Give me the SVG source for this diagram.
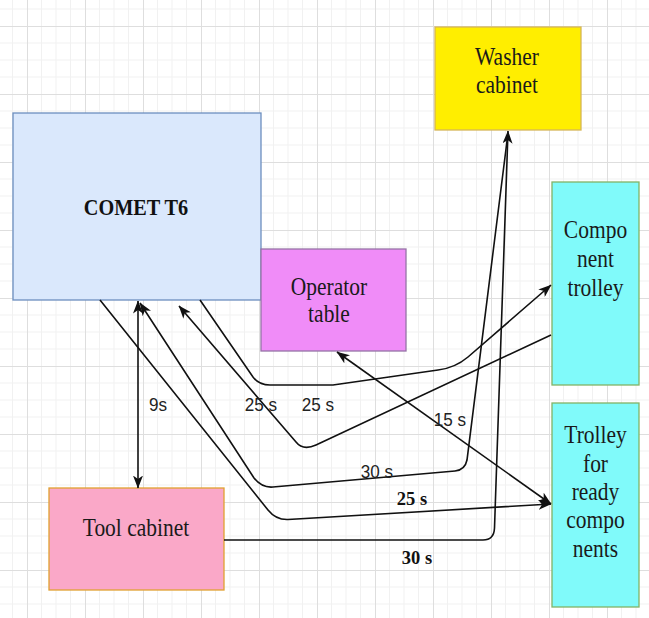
<svg xmlns="http://www.w3.org/2000/svg" width="649" height="618" viewBox="0 0 649 618">
<style>
.box{stroke-width:1.3}
.nt{font-family:"Liberation Serif","Times New Roman",serif;font-size:25px;fill:#1a1a1a;text-anchor:middle}
.bt{font-family:"Liberation Serif","Times New Roman",serif;font-size:22.5px;font-weight:bold;fill:#111;text-anchor:middle}
.lb{font-family:"Liberation Sans",Arial,sans-serif;font-size:19px;fill:#222;text-anchor:middle}
.lbb{font-family:"Liberation Serif","Times New Roman",serif;font-size:19.5px;font-weight:bold;fill:#111;text-anchor:middle}
.c{fill:none;stroke:#111;stroke-width:1.6}
</style>
<defs>
<pattern id="grid" x="27" y="26" width="58" height="68" patternUnits="userSpaceOnUse">
<path d="M14.5,0V68M29,0V68M43.5,0V68M0,17H58M0,34H58M0,51H58" stroke="#f1f1f1" stroke-width="1" fill="none"/>
<path d="M0.5,0V68M0,0.5H58" stroke="#dedede" stroke-width="1" fill="none"/>
</pattern>
<marker id="arr" viewBox="0 0 13 10" refX="12.5" refY="5" markerWidth="13" markerHeight="10" orient="auto-start-reverse" markerUnits="userSpaceOnUse">
<path d="M0,0 L13,5 L0,10 L3.5,5 Z" fill="#111"/>
</marker>
</defs>
<rect width="649" height="618" fill="#ffffff"/>
<rect width="649" height="618" fill="url(#grid)"/>

<g id="node-comet">
<rect class="box" x="13" y="113" width="248" height="187" fill="#dae8fc" stroke="#6c8ebf"/>
<text class="bt" transform="translate(136,215) scale(0.9,1)">COMET T6</text>
</g>
<g id="node-washer">
<rect class="box" x="435" y="27" width="146" height="103" fill="#ffee00" stroke="#d6b656"/>
<text class="nt" transform="translate(507,65) scale(0.86,1)">Washer</text>
<text class="nt" transform="translate(507,93) scale(0.86,1)">cabinet</text>
</g>
<g id="node-operator">
<rect class="box" x="261" y="249" width="145" height="102" fill="#f08cf8" stroke="#9673a6"/>
<text class="nt" transform="translate(329,295) scale(0.86,1)">Operator</text>
<text class="nt" transform="translate(329,322) scale(0.86,1)">table</text>
</g>
<g id="node-component-trolley">
<rect class="box" x="552" y="182" width="87" height="203" fill="#80fafa" stroke="#82b366"/>
<text class="nt" transform="translate(595.5,238) scale(0.86,1)">Compo</text>
<text class="nt" transform="translate(595.5,267) scale(0.86,1)">nent</text>
<text class="nt" transform="translate(595.5,296) scale(0.86,1)">trolley</text>
</g>
<g id="node-ready-trolley">
<rect class="box" x="552" y="403" width="87" height="204" fill="#80fafa" stroke="#82b366"/>
<text class="nt" transform="translate(595.5,443) scale(0.86,1)">Trolley</text>
<text class="nt" transform="translate(595.5,472) scale(0.86,1)">for</text>
<text class="nt" transform="translate(595.5,500) scale(0.86,1)">ready</text>
<text class="nt" transform="translate(595.5,528) scale(0.86,1)">compo</text>
<text class="nt" transform="translate(595.5,557) scale(0.86,1)">nents</text>
</g>
<g id="node-tool-cabinet">
<rect class="box" x="49" y="488" width="175" height="102" fill="#faa8c8" stroke="#e0a030"/>
<text class="nt" transform="translate(136,536) scale(0.86,1)">Tool cabinet</text>
</g>

<g id="connectors">
<path class="c" d="M138,301 L138,488" marker-start="url(#arr)" marker-end="url(#arr)"/>
<path class="c" d="M100,300 L268,510 Q276,520 288,519.5 L551,504" marker-end="url(#arr)"/>
<path class="c" d="M508,133 L467,460 Q465,470 455,471 L273,487 Q262,488 254,478 L140,303" marker-end="url(#arr)"/>
<path class="c" d="M224,540 L483,540 Q494,540 494.5,528 L508,131" marker-end="url(#arr)"/>
<path class="c" d="M551,335 L316,445 Q303,451 296,442 L179,306" marker-end="url(#arr)"/>
<path class="c" d="M200,300 L253,377 Q259,385 270,385 L333,385 L438,370 Q455,368 468,357 L551,285" marker-end="url(#arr)"/>
<path class="c" d="M337,352 L551,504" marker-start="url(#arr)" marker-end="url(#arr)"/>
<text class="lb" transform="translate(158,411) scale(0.9,1)">9s</text>
<text class="lb" transform="translate(261,411) scale(0.9,1)">25 s</text>
<text class="lb" transform="translate(318,411) scale(0.9,1)">25 s</text>
<text class="lb" transform="translate(450,426) scale(0.9,1)">15 s</text>
<text class="lb" transform="translate(377,478) scale(0.9,1)">30 s</text>
<text class="lbb" transform="translate(412,505) scale(0.95,1)">25 s</text>
<text class="lbb" transform="translate(417,564) scale(0.95,1)">30 s</text>
</g>
</svg>
